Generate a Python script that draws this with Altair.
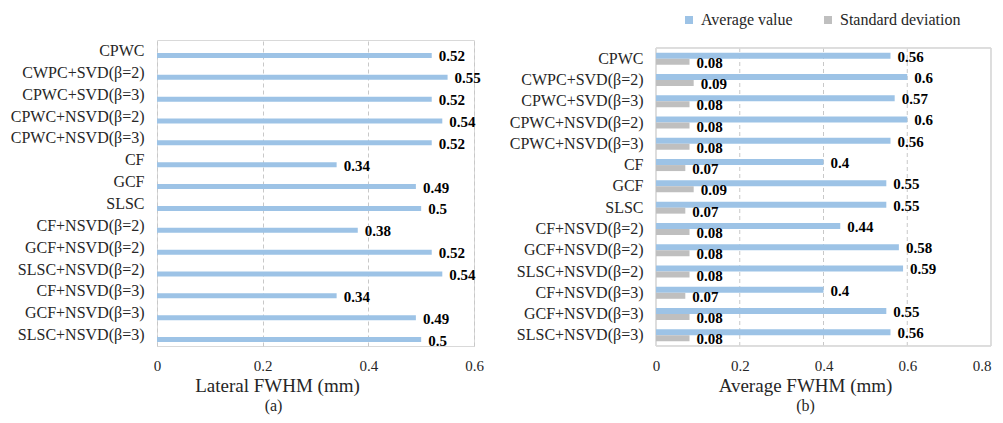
import altair as alt
import pandas as pd

categories = ["CPWC", "CWPC+SVD(β=2)", "CPWC+SVD(β=3)", "CPWC+NSVD(β=2)", "CPWC+NSVD(β=3)",
              "CF", "GCF", "SLSC", "CF+NSVD(β=2)", "GCF+NSVD(β=2)", "SLSC+NSVD(β=2)",
              "CF+NSVD(β=3)", "GCF+NSVD(β=3)", "SLSC+NSVD(β=3)"]
lateral_fwhm = [0.52, 0.55, 0.52, 0.54, 0.52, 0.34, 0.49, 0.5, 0.38, 0.52, 0.54, 0.34, 0.49, 0.5]
average_fwhm = [0.56, 0.6, 0.57, 0.6, 0.56, 0.4, 0.55, 0.55, 0.44, 0.58, 0.59, 0.4, 0.55, 0.56]
std_fwhm = [0.08, 0.09, 0.08, 0.08, 0.08, 0.07, 0.09, 0.07, 0.08, 0.08, 0.08, 0.07, 0.08, 0.08]
series_names = ["Average value", "Standard deviation"]
series_colors = ["#9DC3E6", "#BFBFBF"]
left_ticks = [0, 0.2, 0.4, 0.6]
right_ticks = [0, 0.2, 0.4, 0.6, 0.8]

FONT = "Liberation Serif"
LABEL_COLOR = "#262626"
FRAME_COLOR = "#D9D9D9"
GRID_COLOR = "#C8C8C8"

df_left = pd.DataFrame({"method": categories, "value": lateral_fwhm,
                        "label": [str(v) for v in lateral_fwhm]})
df_right = pd.DataFrame({
    "method": categories * 2,
    "series": [series_names[0]] * len(categories) + [series_names[1]] * len(categories),
    "value": average_fwhm + std_fwhm,
    "label": [str(v) for v in average_fwhm + std_fwhm],
})
df_right_grid = pd.DataFrame({"value": right_ticks[1:-1]})


def x_axis(title, ticks, title_x, grid, last_tick):
    return alt.Axis(values=ticks, format="~g", title=title, grid=grid, gridDash=[4, 3],
                    gridColor=GRID_COLOR, ticks=False, domain=False, labelFont=FONT,
                    labelFontSize=15, labelColor=LABEL_COLOR, labelPadding=12,
                    labelAlign=alt.condition(f"datum.value >= {last_tick}",
                                             alt.value("right"), alt.value("center")),
                    titleFont=FONT, titleFontSize=19, titleFontWeight="normal",
                    titleColor=LABEL_COLOR, titleX=title_x, titlePadding=3)


def y_axis():
    return alt.Axis(title=None, ticks=False, domain=False, grid=False,
                    labelFont=FONT, labelFontSize=16, labelColor=LABEL_COLOR,
                    labelPadding=13)


# ---- left panel ----
y_left = alt.Y("method:N", sort=categories,
               scale=alt.Scale(paddingInner=0, paddingOuter=0), axis=y_axis())
x_left = alt.X("value:Q", scale=alt.Scale(domain=[0, 0.6], nice=False),
               axis=x_axis("Lateral FWHM (mm)", left_ticks, 120, True, 0.7))

base_left = alt.Chart(df_left).encode(y=y_left, x=x_left)
bars_left = base_left.mark_bar(size=5, yOffset=4.5, color=series_colors[0])
text_left = base_left.mark_text(align="left", baseline="middle", dx=7, dy=5.5, font=FONT,
                                fontSize=15, fontWeight="bold", color="#000000").encode(text="label:N")
left = (bars_left + text_left).properties(
    width=317, height=306,
    title=alt.Title("(a)", orient="bottom", frame="group", anchor="middle", dx=-42,
                    font=FONT, fontSize=16, fontWeight="normal", color=LABEL_COLOR, offset=3))

# ---- right panel (plot frame starts 8px lower than the left one) ----
y_right = alt.Y("method:N", sort=categories,
                scale=alt.Scale(range=[8, 306], paddingInner=0.436, paddingOuter=0.218),
                axis=y_axis())
x_scale_right = alt.Scale(domain=[0, 0.8], nice=False)
x_right = alt.X("value:Q", scale=x_scale_right,
                axis=x_axis("Average FWHM (mm)", right_ticks, 149, False, 0.8))
yoff = alt.YOffset("series:N", sort=series_names,
                   scale=alt.Scale(domain=series_names, paddingInner=0, paddingOuter=0))
color = alt.Color("series:N", sort=series_names,
                  scale=alt.Scale(domain=series_names, range=series_colors),
                  legend=alt.Legend(title=None, orient="none", legendX=25, legendY=-28,
                                    direction="horizontal", symbolType="square",
                                    symbolSize=64, symbolStrokeWidth=0, labelFont=FONT,
                                    labelFontSize=16, labelColor=LABEL_COLOR, labelOffset=4,
                                    columnPadding=27, padding=0))

grid_right = alt.Chart(df_right_grid).mark_rule(
    color=GRID_COLOR, strokeDash=[4, 3], strokeWidth=1
).encode(x=alt.X("value:Q", scale=x_scale_right), y=alt.value(8), y2=alt.value(306))
frame_right = alt.Chart(df_right_grid).mark_rect(
    filled=False, stroke=FRAME_COLOR, strokeWidth=1
).encode(x=alt.value(0), x2=alt.value(335), y=alt.value(8), y2=alt.value(306))

base_right = alt.Chart(df_right).encode(y=y_right, x=x_right, yOffset=yoff)
bars_right = base_right.mark_bar().encode(color=color)
text_right = base_right.mark_text(align="left", baseline="middle", dx=7, dy=1, font=FONT,
                                  fontSize=15, fontWeight="bold",
                                  color="#000000").encode(text="label:N")
right = alt.layer(grid_right, frame_right, bars_right, text_right).properties(
    width=335, height=306,
    view=alt.ViewBackground(stroke="transparent"),
    title=alt.Title("(b)", orient="bottom", frame="group", anchor="middle", dx=-18,
                    font=FONT, fontSize=16, fontWeight="normal", color=LABEL_COLOR, offset=3))

chart = alt.hconcat(left, right, spacing=24).resolve_scale(
    color="independent"
).resolve_legend(color="independent").properties(
    padding={"left": 1, "top": 3, "right": 0, "bottom": 0}
).configure_view(stroke=FRAME_COLOR, strokeWidth=1)

chart.save("out.html", embed_options={"renderer": "svg", "actions": False})
